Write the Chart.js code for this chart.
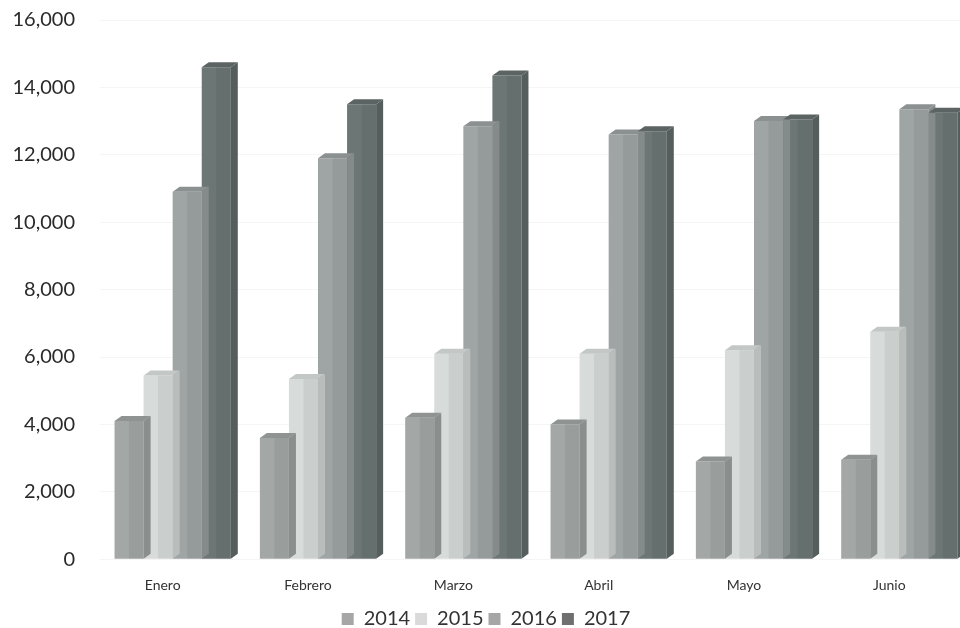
<!DOCTYPE html>
<html>
<head>
<meta charset="utf-8">
<script src="https://cdn.jsdelivr.net/npm/chart.js@4"></script>
<style>
html,body{margin:0;padding:0;background:#fff;overflow:hidden;}
#wrap{width:975px;height:628px;position:relative;}
</style>
</head>
<body>
<div id="wrap"><canvas id="c"></canvas></div>
<script>
const categories = ["Enero", "Febrero", "Marzo", "Abril", "Mayo", "Junio"];
const seriesNames = ["2014", "2015", "2016", "2017"];
const values2014 = [4100, 3600, 4200, 4000, 2900, 2950];
const values2015 = [5450, 5350, 6100, 6100, 6200, 6750];
const values2016 = [10900, 11900, 12850, 12600, 13000, 13350];
const values2017 = [14600, 13500, 14350, 12700, 13050, 13250];
const yTicks = [0, 2000, 4000, 6000, 8000, 10000, 12000, 14000, 16000];

const frontColors = ["#a3a7a6", "#d7dbda", "#9fa5a4", "#6c7675"];
const sideColors  = ["#8a8e8d", "#b9bdbc", "#858b8a", "#555e5d"];
const topColors   = ["#8f9392", "#c3c7c6", "#8b9190", "#5b6463"];
const legendColors = ["#a6a6a6", "#dadada", "#a6a6a6", "#6f6f6f"];

const allSeries = [values2014, values2015, values2016, values2017];

const depthPlugin = {
  id: 'depth3d',
  afterDatasetsDraw(chart) {
    const ctx = chart.ctx;
    const dx = 7, dy = -5;
    chart.data.datasets.forEach((ds, di) => {
      const meta = chart.getDatasetMeta(di);
      meta.data.forEach((bar) => {
        const p = bar.getProps(['x','y','base','width'], true);
        const l = p.x - p.width/2, r = p.x + p.width/2;
        ctx.save();
        ctx.fillStyle = topColors[di];
        ctx.beginPath();
        ctx.moveTo(l, p.y);
        ctx.lineTo(l+dx, p.y+dy);
        ctx.lineTo(r+dx, p.y+dy);
        ctx.lineTo(r, p.y);
        ctx.closePath();
        ctx.fill();
        ctx.fillStyle = sideColors[di];
        ctx.beginPath();
        ctx.moveTo(r, p.y);
        ctx.lineTo(r+dx, p.y+dy);
        ctx.lineTo(r+dx, p.base+dy);
        ctx.lineTo(r, p.base);
        ctx.closePath();
        ctx.fill();
        ctx.fillStyle = 'rgba(0,0,0,0.06)';
        ctx.fillRect(p.x, p.y, p.width/2, p.base - p.y);
        ctx.restore();
      });
    });
  }
};

new Chart(document.getElementById('c'), {
  type: 'bar',
  data: {
    labels: categories,
    datasets: seriesNames.map((n, i) => ({
      label: n,
      data: allSeries[i],
      backgroundColor: frontColors[i],
      borderWidth: 0,
      categoryPercentage: 0.8,
      barPercentage: 1.0
    }))
  },
  options: {
    responsive: true,
    maintainAspectRatio: false,
    animation: false,
    layout: { padding: { left: 0, top: 20, right: 3, bottom: -11 } },
    plugins: {
      tooltip: { enabled: false },
      legend: {
        position: 'bottom',
        labels: {
          font: { family: 'Lato', size: 20, lineHeight: 0.8 },
          color: '#333',
          boxWidth: 12,
          boxHeight: 12,
          padding: 5,
          generateLabels(chart) {
            return seriesNames.map((n, i) => ({
              text: n, fillStyle: legendColors[i], strokeStyle: legendColors[i],
              lineWidth: 0, datasetIndex: i, fontColor: '#333'
            }));
          }
        }
      }
    },
    scales: {
      x: {
        grid: { display: false },
        border: { display: false },
        ticks: { font: { family: 'Lato', size: 14 }, color: '#333', labelOffset: -10, padding: 10 }
      },
      y: {
        min: 0, max: 16000,
        afterFit(scale) { scale.width = 100; scale.paddingTop = 0; scale.paddingBottom = 0; },
        afterBuildTicks(scale) { scale.ticks = yTicks.map(v => ({ value: v })); },
        grid: { color: '#f5f5f5', drawTicks: false },
        border: { display: false },
        ticks: {
          font: { family: 'Lato', size: 20, lineHeight: 0.3 }, color: '#2a2a2a', padding: 25,
          callback: (v) => v.toLocaleString('en-US')
        }
      }
    }
  },
  plugins: [depthPlugin]
});
</script>
</body>
</html>
